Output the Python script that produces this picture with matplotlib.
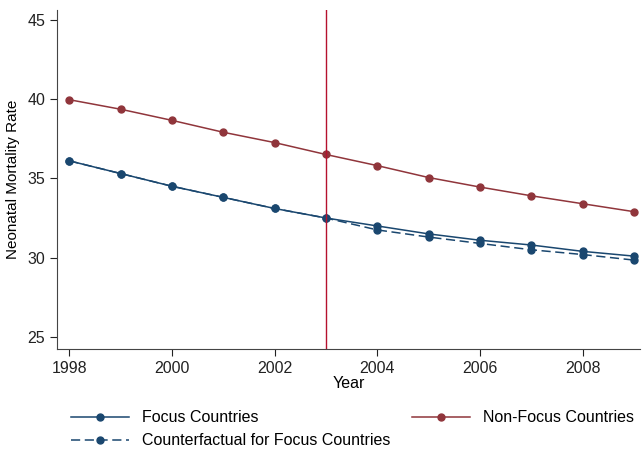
import numpy as np
import matplotlib
matplotlib.use("Agg")
import matplotlib.pyplot as plt

plt.rcParams['font.family'] = ['Liberation Sans', 'DejaVu Sans']

years = np.arange(1998, 2010)
focus = [36.1, 35.3, 34.5, 33.8, 33.1, 32.5, 32.0, 31.5, 31.1, 30.8, 30.4, 30.1]
non_focus = [39.95, 39.35, 38.65, 37.9, 37.25, 36.5, 35.8, 35.05, 34.45, 33.9, 33.4, 32.9]
counterfactual = [36.1, 35.3, 34.5, 33.8, 33.1, 32.5, 31.75, 31.3, 30.9, 30.5, 30.2, 29.85]
policy_year = 2003

navy = "#1a476f"
maroon = "#90353b"

fig = plt.figure(figsize=(6.42, 4.51), dpi=100)
ax = fig.add_axes([57/642, 1 - 349/451, 583/642, 339/451])

l1, = ax.plot(years, focus, color=navy, lw=1.1, marker="o", ms=5,
              label="Focus Countries")
l3, = ax.plot(years, non_focus, color=maroon, lw=1.1, marker="o", ms=5,
              label="Non-Focus Countries")
l2, = ax.plot(years, counterfactual, color=navy, lw=1.1, ls=(0, (6, 3)),
              marker="o", ms=5, label="Counterfactual for Focus Countries")
ax.axvline(policy_year, color="#b5112e", lw=1)

ax.set_xlim(1997.76, 2009.12)
ax.set_ylim(24.25, 45.6)
ax.set_xticks(np.arange(1998, 2009, 2))
ax.set_yticks(np.arange(25, 46, 5))
for s in ["top", "right"]:
    ax.spines[s].set_visible(False)
for s in ["left", "bottom"]:
    ax.spines[s].set_color("#444444")
ax.tick_params(labelsize=11.5, length=5, colors="#222222")
ax.set_xlabel("Year", fontsize=11.5, labelpad=0)
ax.set_ylabel("Neonatal Mortality Rate", fontsize=11, labelpad=5)

fig.legend([l1, l2, l3], [l.get_label() for l in (l1, l2, l3)],
           ncol=2, frameon=False, fontsize=11.5, handlelength=3.6,
           columnspacing=1.4, loc="upper left",
           bbox_to_anchor=(57/642, 1 - 396/451), labelspacing=0.5)

fig.savefig("out.png", dpi=100)
